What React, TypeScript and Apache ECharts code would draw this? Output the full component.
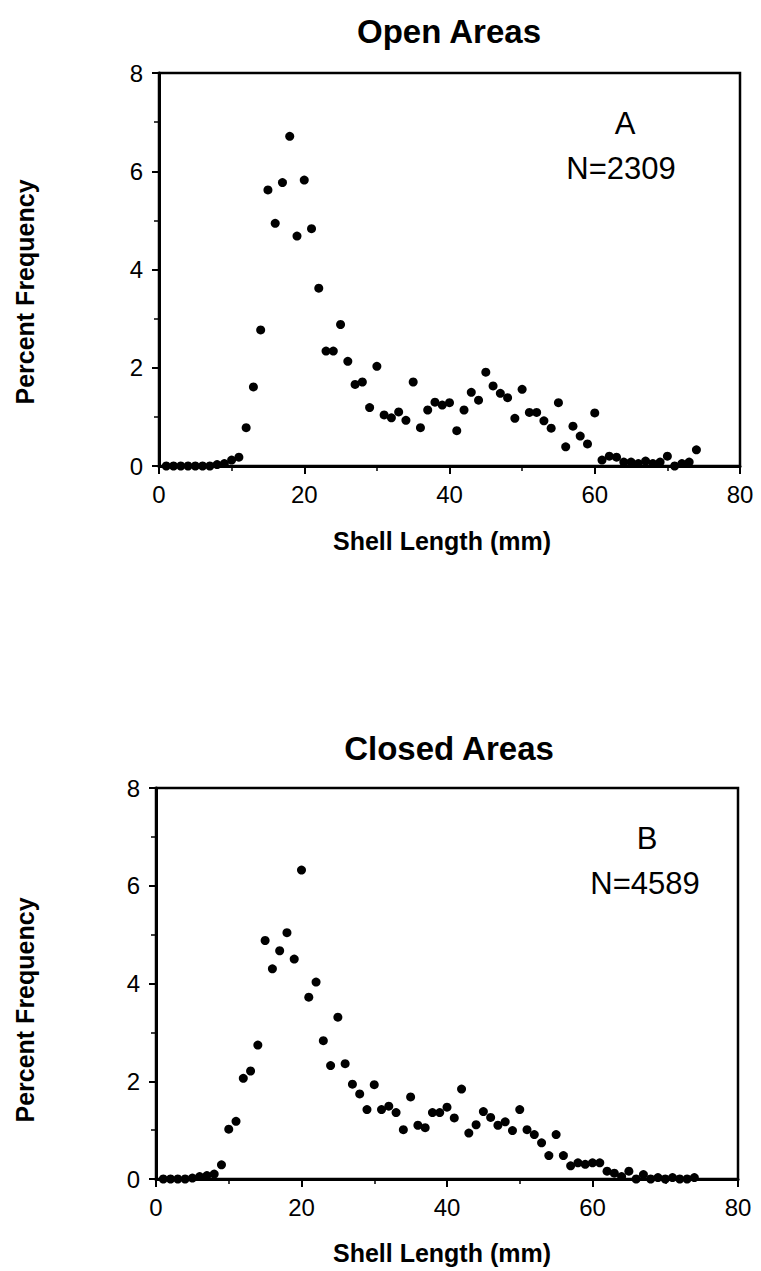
import React, { useEffect, useRef } from "react";
import * as echarts from "echarts";

// Shell length bins (mm)
const lengths: number[] = Array.from({ length: 74 }, (_, i) => i + 1);

// Percent frequency, open areas (A)
const openFreq: number[] = [
  0, 0, 0, 0, 0, 0, 0, 0.03, 0.05, 0.12,
  0.18, 0.78, 1.61, 2.77, 5.62, 4.94, 5.77, 6.71, 4.68, 5.82,
  4.83, 3.62, 2.34, 2.34, 2.88, 2.13, 1.66, 1.71, 1.19, 2.03,
  1.04, 0.98, 1.1, 0.93, 1.71, 0.78, 1.14, 1.3, 1.24, 1.29,
  0.72, 1.14, 1.5, 1.34, 1.91, 1.63, 1.48, 1.39, 0.97, 1.56,
  1.09, 1.09, 0.92, 0.77, 1.29, 0.39, 0.81, 0.61, 0.45, 1.08,
  0.12, 0.2, 0.18, 0.08, 0.08, 0.05, 0.1, 0.05, 0.08, 0.2,
  0, 0.05, 0.08, 0.33,
];

// Percent frequency, closed areas (B)
const closedFreq: number[] = [
  0, 0, 0, 0, 0.02, 0.05, 0.07, 0.1, 0.29, 1.02,
  1.18, 2.06, 2.21, 2.74, 4.88, 4.3, 4.67, 5.04, 4.5, 6.32,
  3.72, 4.03, 2.83, 2.32, 3.31, 2.36, 1.94, 1.74, 1.42, 1.93,
  1.42, 1.49, 1.36, 1.01, 1.68, 1.1, 1.05, 1.36, 1.36, 1.47,
  1.25, 1.84, 0.94, 1.11, 1.38, 1.26, 1.1, 1.17, 0.99, 1.42,
  1.01, 0.91, 0.74, 0.48, 0.91, 0.48, 0.27, 0.33, 0.3, 0.33,
  0.33, 0.16, 0.12, 0.05, 0.16, 0, 0.09, 0, 0.03, 0,
  0.03, 0, 0, 0.03,
];

const panelTitles: string[] = ["Open Areas", "Closed Areas"];
const panelLetters: string[] = ["A", "B"];
const panelCounts: string[] = ["N=2309", "N=4589"];
const xAxisTitle = "Shell Length (mm)";
const yAxisTitle = "Percent Frequency";

const FONT = "'Liberation Sans', Arial, Helvetica, sans-serif";

export default function App() {
  const ref = useRef<HTMLDivElement>(null);

  useEffect(() => {
    document.body.style.margin = "0";
    if (!ref.current) return;
    const chart = echarts.init(ref.current, undefined, { renderer: "svg" });

    const grids = [
      { left: 159, top: 73, width: 581, height: 393 },
      { left: 156, top: 788, width: 582, height: 391 },
    ];

    const xAxes = grids.map((_, i) => ({
      type: "value" as const,
      gridIndex: i,
      min: 0,
      max: 80,
      interval: 20,
      axisLine: { show: true, lineStyle: { color: "#000", width: 3 } },
      axisTick: { show: true, length: 8, lineStyle: { color: "#000", width: 2 } },
      minorTick: { show: true, splitNumber: 2, length: 5, lineStyle: { color: "#000", width: 1.5 } },
      splitLine: { show: false },
      axisLabel: { color: "#000", fontSize: 24, fontFamily: FONT, margin: 16 },
    }));

    const yAxes = grids.map((_, i) => ({
      type: "value" as const,
      gridIndex: i,
      min: 0,
      max: 8,
      interval: 2,
      axisLine: { show: true, lineStyle: { color: "#000", width: 3 } },
      axisTick: { show: true, length: 7, lineStyle: { color: "#000", width: 2 } },
      minorTick: { show: true, splitNumber: 2, length: 5, lineStyle: { color: "#000", width: 1.5 } },
      splitLine: { show: false },
      axisLabel: { color: "#000", fontSize: 24, fontFamily: FONT, margin: 16 },
    }));

    const seriesData = [openFreq, closedFreq];

    const series = seriesData.map((vals, i) => ({
      type: "scatter" as const,
      xAxisIndex: i,
      yAxisIndex: i,
      symbol: "circle",
      symbolSize: 9,
      clip: false,
      itemStyle: { color: "#000", opacity: 1 },
      data: lengths.map((x, k) => [x, vals[k]]),
    }));

    const textStyleBase = { fill: "#000", fontFamily: FONT };

    const graphics: any[] = [];
    const titleY = [31, 748];
    const xNameY = [541, 1253];
    const yNameY = [292, 1010];
    const letterPos = [
      [625, 123],
      [647, 838],
    ];
    const countPos = [
      [621, 168],
      [645, 883],
    ];
    for (let i = 0; i < 2; i++) {
      graphics.push({
        type: "text",
        x: 449,
        y: titleY[i],
        style: { ...textStyleBase, text: panelTitles[i], fontSize: 33, fontWeight: "bold", textAlign: "center", textVerticalAlign: "middle" },
      });
      graphics.push({
        type: "text",
        x: 442,
        y: xNameY[i],
        style: { ...textStyleBase, text: xAxisTitle, fontSize: 25, fontWeight: "bold", textAlign: "center", textVerticalAlign: "middle" },
      });
      graphics.push({
        type: "text",
        x: 25,
        y: yNameY[i],
        rotation: Math.PI / 2,
        style: { ...textStyleBase, text: yAxisTitle, fontSize: 25, fontWeight: "bold", textAlign: "center", textVerticalAlign: "middle" },
      });
      graphics.push({
        type: "text",
        x: letterPos[i][0],
        y: letterPos[i][1],
        style: { ...textStyleBase, text: panelLetters[i], fontSize: 31, textAlign: "center", textVerticalAlign: "middle" },
      });
      graphics.push({
        type: "text",
        x: countPos[i][0],
        y: countPos[i][1],
        style: { ...textStyleBase, text: panelCounts[i], fontSize: 31, textAlign: "center", textVerticalAlign: "middle" },
      });
    }

    chart.setOption({
      animation: false,
      backgroundColor: "#fff",
      grid: grids.map((g) => ({ ...g, show: true, borderColor: "#000", borderWidth: 2.5, backgroundColor: "transparent", containLabel: false })),
      xAxis: xAxes,
      yAxis: yAxes,
      series,
      graphic: graphics,
    });

    return () => chart.dispose();
  }, []);

  return <div ref={ref} style={{ width: 761, height: 1271 }} />;
}
